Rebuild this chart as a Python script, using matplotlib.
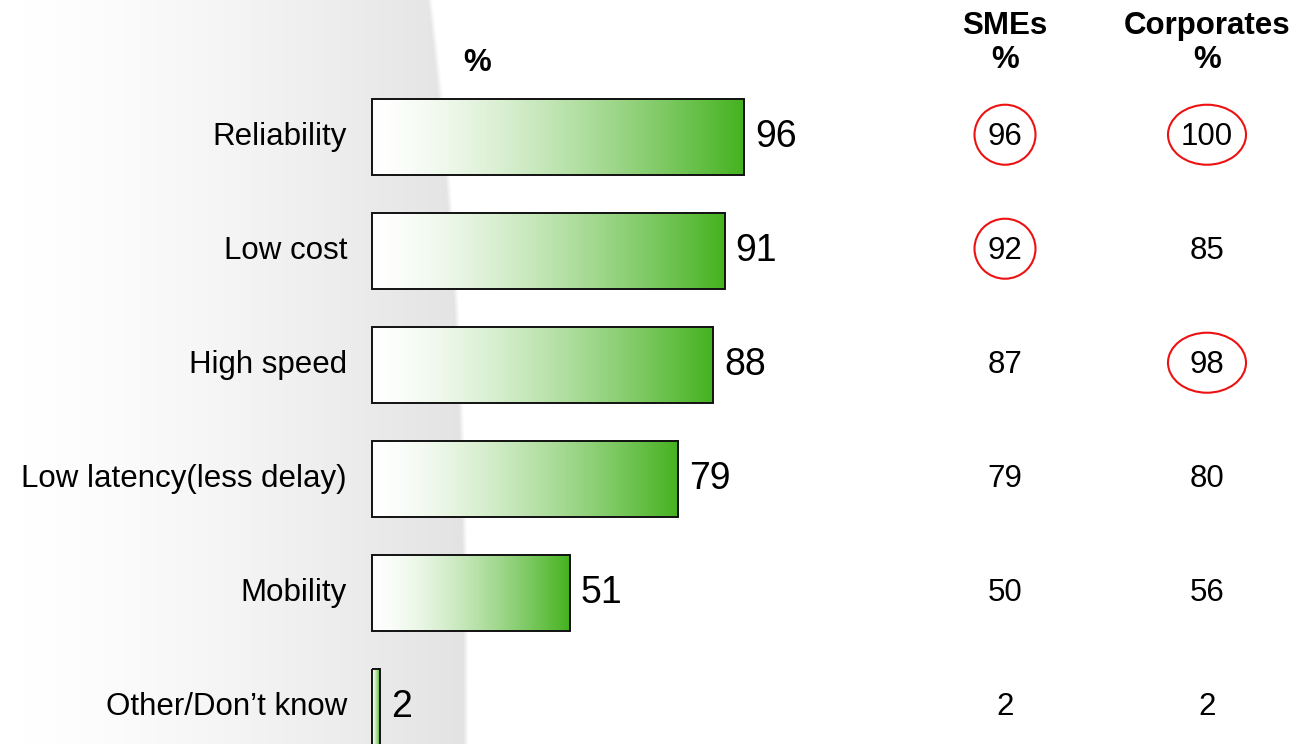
import numpy as np
import matplotlib
matplotlib.use("Agg")
import matplotlib.pyplot as plt
from matplotlib import transforms
from matplotlib.patches import Ellipse
from matplotlib.colors import to_rgb

# ---------------- data ----------------
categories = ["Reliability", "Low cost", "High speed", "Low latency(less delay)",
              "Mobility", "Other/Don\u2019t know"]
total = [96, 91, 88, 79, 51, 2]
smes = [96, 92, 87, 79, 50, 2]
corporates = [100, 85, 98, 80, 56, 2]
smes_circled = [True, True, False, False, False, False]
corp_circled = [True, False, True, False, False, False]
col_headers = ["SMEs\n%", "Corporates\n%"]
bar_header = "%"

plt.rcParams['font.family'] = ['Liberation Sans', 'DejaVu Sans']

W, H = 1295, 744
fig = plt.figure(figsize=(W / 100, H / 100), dpi=100)
fig.patch.set_facecolor('white')

# ---------------- background decorative shape ----------------
bg = fig.add_axes([0, 0, 1, 1])
bg.set_xlim(0, W)
bg.set_ylim(H, 0)
bg.axis('off')
BW = 480
xx = np.arange(BW) + 0.5
yy = np.arange(H) + 0.5
X, Y = np.meshgrid(xx, yy)
xe = 466 - 36 * (1 - Y / H) ** 2.5
prof = np.clip((X / 466 - 0.05) / 0.95, 0, 1) ** 1.3
gray = 1.0 - 0.11 * prof
alpha = np.clip((xe - X) / 5.0 + 0.5, 0, 1)
rgba = np.dstack([gray, gray, gray, alpha])
bg.imshow(rgba, extent=(0, BW, H, 0), aspect='auto', interpolation='bilinear')
bg.set_xlim(0, W)
bg.set_ylim(H, 0)

# ---------------- main axes ----------------
ax = fig.add_axes([0, 0, 1, 1])
ax.patch.set_alpha(0)
ax.axis('off')
scale = 3.875  # px per unit
x0 = 372
xlim = (-x0 / scale, (W - x0) / scale)
ylim = ((H - 137) / 114, -137 / 114)

bar_h = 0.675
green = np.array(to_rgb('#45b21f'))
t = np.linspace(0, 1, 256)
tt = t ** 1.5
grad = 1 - tt[:, None] * (1 - green[None, :])
grad = grad[None, :, :]

ypos = np.arange(len(categories))
for y, v in zip(ypos, total):
    ax.imshow(grad, extent=(0, v, y + bar_h / 2, y - bar_h / 2), aspect='auto',
              interpolation='bilinear', zorder=2)
bars = ax.barh(ypos, total, height=bar_h, facecolor='none', edgecolor='#111111',
               linewidth=1.4, zorder=3)
ax.set_xlim(*xlim)
ax.set_ylim(*ylim)

for y, v, c in zip(ypos, total, categories):
    ax.text(v + 11 / scale, y, str(v), va='center', ha='left', fontsize=27, color='black')
    ax.text(-25 / scale, y, c, va='center', ha='right', fontsize=22.5, color='black')

blend = transforms.blended_transform_factory(fig.transFigure, ax.transData)
col_x = [1005 / W, 1207 / W]
for cx, vals, circ, ew in [(col_x[0], smes, smes_circled, 61),
                            (col_x[1], corporates, corp_circled, 78)]:
    for y, v, c in zip(ypos, vals, circ):
        ax.text(cx, y, str(v), transform=blend, va='center', ha='center',
                fontsize=22.5, color='black')
        if c:
            e = Ellipse((cx, y - 0.02), width=ew / W, height=60 / 114, transform=blend,
                        facecolor='none', edgecolor='#ee1111', linewidth=1.5)
            ax.add_patch(e)

for cx, hdr in zip(col_x, col_headers):
    fig.text(cx, 1 - 43 / H, hdr, ha='center', va='center', fontsize=22.5,
             fontweight='bold', linespacing=1.2)
fig.text(477 / W, 1 - 63 / H, bar_header, ha='center', va='center', fontsize=22.5,
         fontweight='bold')

fig.savefig('out.png', dpi=100)
